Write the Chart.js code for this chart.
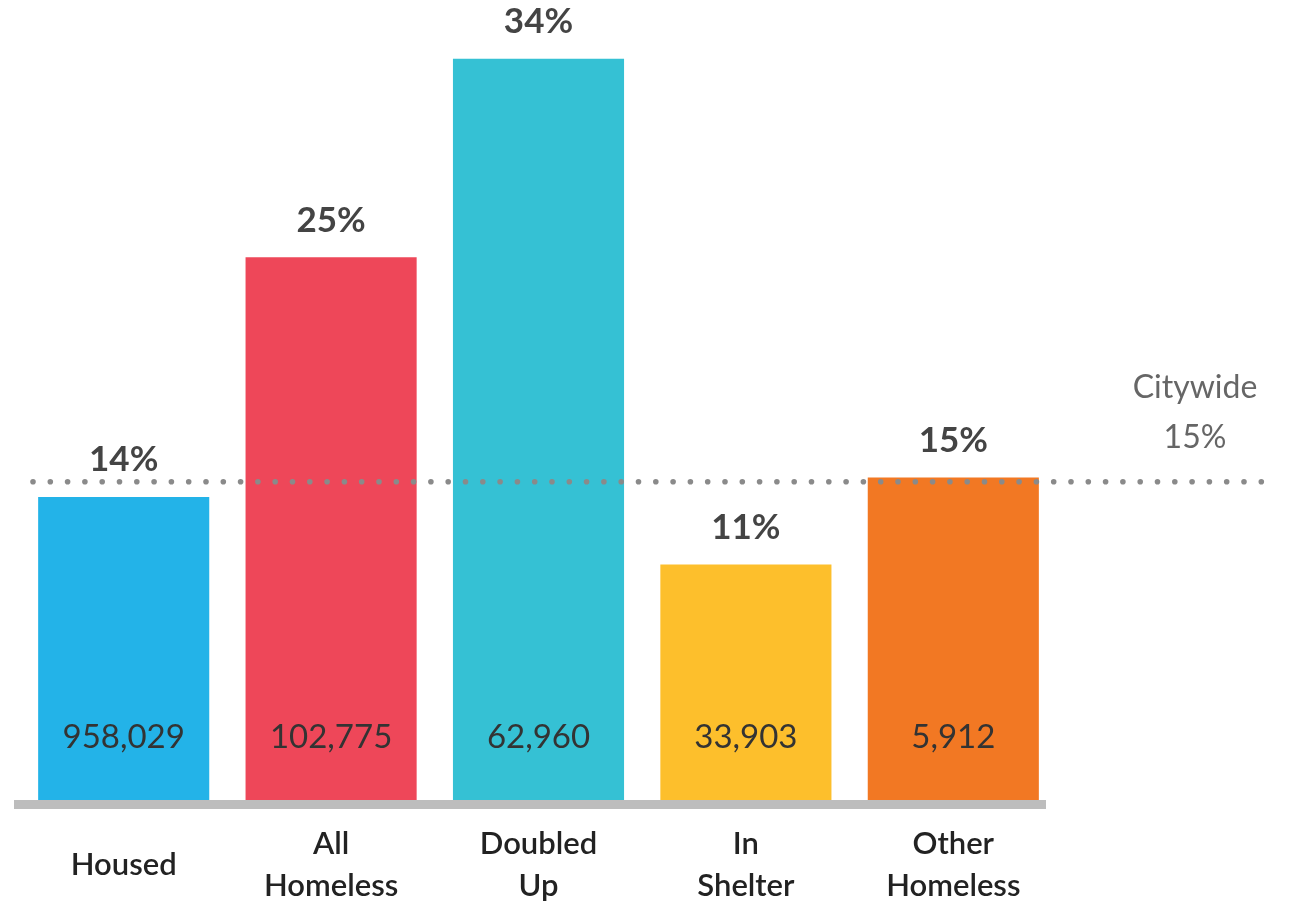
<!DOCTYPE html>
<html>
<head>
<meta charset="utf-8">
<script src="https://cdn.jsdelivr.net/npm/chart.js@4.4.0/dist/chart.umd.min.js"></script>
<style>
body{margin:0;background:#fff;}
#wrap{width:1289px;height:910px;}
</style>
</head>
<body>
<div id="wrap"><canvas id="myChart" width="1289" height="910"></canvas></div>
<script>
// chart values
const categories = [["Housed"], ["All", "Homeless"], ["Doubled", "Up"], ["In", "Shelter"], ["Other", "Homeless"]];
const shares = [13.9, 24.9, 34, 10.8, 14.8];
const counts = ["958,029", "102,775", "62,960", "33,903", "5,912"];
const citywide = 14.6;
const citywideLabel = ["Citywide", "15%"];
const barColors = ["#23b3e8", "#ee4759", "#35c1d4", "#fdbf2c", "#f27823"];

const FONT = "Lato, 'Open Sans', sans-serif";

// labels above & inside bars, plus the citywide dotted line
const labelsPlugin = {
    id: "labels",
    beforeDatasetsDraw(chart){
        // grey baseline
        const ctx = chart.ctx;
        const area = chart.chartArea;
        ctx.save();
        ctx.fillStyle = "#bdbdbd";
        ctx.fillRect(area.left - 6, area.bottom, area.right - area.left - 5, 9);
        ctx.restore();
    },
    afterDatasetsDraw(chart){
        const ctx = chart.ctx;
        const meta = chart.getDatasetMeta(0);
        const area = chart.chartArea;
        const y = chart.scales.y;
        ctx.save();
        ctx.textAlign = "center";
        ctx.textBaseline = "middle";
        meta.data.forEach((bar, i) => {
            ctx.fillStyle = "#444";
            ctx.font = "bold 35px " + FONT;
            ctx.fillText(Math.round(shares[i]) + "%", bar.x, bar.y - 37);
            ctx.fillStyle = "#333";
            ctx.font = "33px " + FONT;
            ctx.fillText(counts[i], bar.x, area.bottom - 63);
        });
        // dotted line
        const ly = y.getPixelForValue(citywide);
        ctx.fillStyle = "#8a8a8a";
        for(let x = area.left + 13; x <= chart.width - 24; x += 17.3){
            ctx.beginPath();
            ctx.arc(x, ly, 2.8, 0, Math.PI * 2);
            ctx.fill();
        }
        // citywide text
        ctx.fillStyle = "#666";
        ctx.font = "32px " + FONT;
        const tx = area.right + 138;
        ctx.fillText(citywideLabel[0], tx, ly - 94);
        ctx.fillText(citywideLabel[1], tx, ly - 44);
        ctx.restore();
    }
};

const mychart = document.getElementById("myChart").getContext("2d");
const result = new Chart(mychart, {
    type: "bar",
    data: {
        labels: categories,
        datasets: [{
            data: shares,
            backgroundColor: barColors,
            categoryPercentage: 1,
            barPercentage: 0.825
        }]
    },
    options: {
        responsive: false,
        animation: false,
        layout: { padding: { left: 20, right: 232, top: 0, bottom: 0 } },
        plugins: { legend: { display: false }, tooltip: { enabled: false } },
        scales: {
            x: {
                afterFit(scale){ scale.height = 110; },
                grid: { display: false },
                border: { display: false },
                ticks: {
                    color: "#222",
                    font: { family: FONT, size: 31, weight: "600", lineHeight: 1.36 },
                    padding: 36,
                    crossAlign: "center",
                    maxRotation: 0,
                    autoSkip: false
                }
            },
            y: {
                display: false,
                min: 0,
                max: 36.7
            }
        }
    },
    plugins: [labelsPlugin]
});
</script>
</body>
</html>
